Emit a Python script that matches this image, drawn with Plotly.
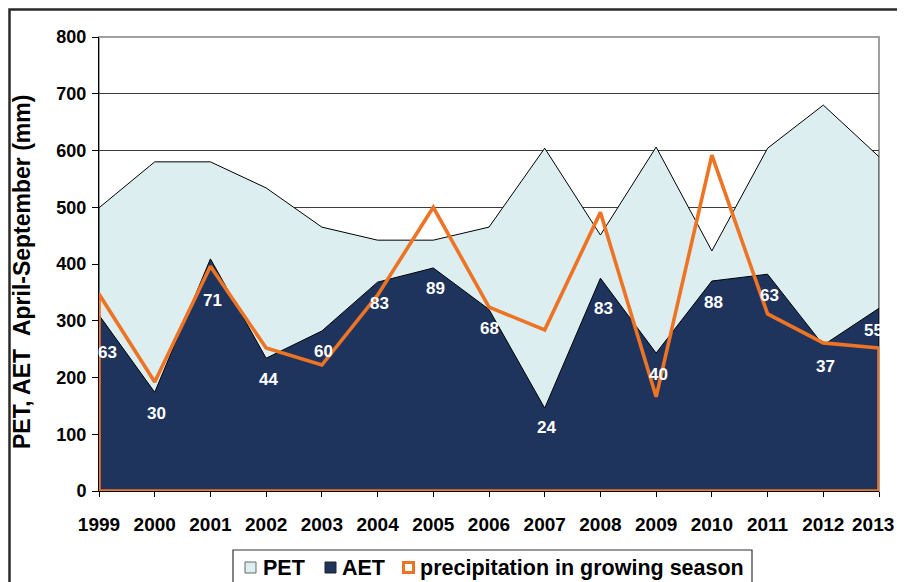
import plotly.graph_objects as go

# === Data ===
YEARS = list(range(1999, 2014))
PET = [499, 580, 580, 534, 465, 442, 442, 465, 604, 451, 606, 423, 604, 680, 589]
AET = [310, 174, 409, 234, 282, 368, 393, 320, 146, 375, 243, 370, 382, 257, 322]
PRECIP = [347, 192, 396, 252, 222, 345, 500, 324, 284, 491, 166, 592, 312, 261, 252]
AET_PCT_LABELS = ["63", "30", "71", "44", "60", "83", "89", "68", "24", "83", "40", "88", "63", "37", "55"]
LEGEND_NAMES = ["PET", "AET", "precipitation in growing season"]

# === Colors ===
PET_COLOR = "#DDEEF0"
AET_COLOR = "#1F345D"
PRECIP_COLOR = "#EC7424"
GRID_COLOR = "#3C3C3C"
FONT = "Liberation Sans, Arial, sans-serif"

# the page has an 8px body margin, so the figure starts at (8, 8) in the window
OFF = 8
FIG_W, FIG_H = 905 - 2 * OFF, 582 - OFF
# plot area in window pixels
PX_LEFT, PX_RIGHT, PX_TOP, PX_BOTTOM = 99, 879, 37, 491
L, R = PX_LEFT - OFF, OFF + FIG_W - PX_RIGHT
T, B = PX_TOP - OFF, 582 - PX_BOTTOM
W, H = PX_RIGHT - PX_LEFT, PX_BOTTOM - PX_TOP


def px_x(px):
    return (px - PX_LEFT) / W


def px_y(py):
    return (PX_BOTTOM - py) / H


def closed(xs, ys):
    # outline polygon down to the x axis (like an Excel area series)
    return [xs[0]] + xs + [xs[-1], xs[0]], [0] + ys + [0, 0]


fig = go.Figure()

px, py = closed(YEARS, PET)
fig.add_trace(go.Scatter(x=px, y=py, fill="toself", fillcolor=PET_COLOR,
                         line=dict(color="black", width=1), mode="lines",
                         showlegend=False, hoverinfo="skip"))

ax, ay = closed(YEARS, AET)
fig.add_trace(go.Scatter(x=ax, y=ay, fill="toself", fillcolor=AET_COLOR,
                         line=dict(color="black", width=1), mode="lines",
                         showlegend=False, hoverinfo="skip"))

rx, ry = closed(YEARS, PRECIP)
fig.add_trace(go.Scatter(x=rx, y=ry, mode="lines",
                         line=dict(color=PRECIP_COLOR, width=3.6),
                         showlegend=False, hoverinfo="skip"))

# AET/PET percent labels
special = {0: (8, -37), 2: (2, -42), 7: (0, -19), 8: (2, -19), 9: (3, -30), 14: (-6, -22)}
for i, (yr, v, lab) in enumerate(zip(YEARS, AET, AET_PCT_LABELS)):
    xs, ys = special.get(i, (2, -21))
    fig.add_annotation(x=yr, y=v, text=f"<b>{lab}</b>", showarrow=False,
                       xshift=xs, yshift=ys, yanchor="middle",
                       font=dict(color="white", size=17, family=FONT))

# last year label: the page edge would clip it, so pin it inside the figure
ticktext = [f"<b>{y}</b>" for y in YEARS]
ticktext[-1] = ""
fig.add_annotation(x=YEARS[-1], xref="x", yref="paper", y=px_y(524),
                   xanchor="right", yanchor="middle", xshift=17,
                   text=f"<b>{YEARS[-1]}</b>", showarrow=False,
                   font=dict(size=19, color="black", family=FONT))

# y axis title
fig.add_annotation(xref="paper", yref="paper", x=px_x(22), y=px_y(272),
                   xanchor="center", yanchor="middle",
                   text="<b>PET, AET\u00a0\u00a0April-September (mm)</b>",
                   textangle=-90, showarrow=False,
                   font=dict(size=23, color="black", family=FONT))

# plot border (grey) and outer chart frame
fig.add_shape(type="rect", xref="paper", yref="paper", x0=0, x1=1, y0=0, y1=1,
              line=dict(color="#A0A0A0", width=2), layer="between")
fig.add_shape(type="rect", xref="paper", yref="paper",
              x0=px_x(9.5), x1=px_x(915), y0=px_y(600), y1=px_y(9.5),
              line=dict(color="#2A2A2A", width=2.5), layer="above")

# legend box drawn by hand (it runs off the bottom edge, as in the reference)
fig.add_shape(type="rect", xref="paper", yref="paper",
              x0=px_x(233), x1=px_x(752), y0=px_y(600), y1=px_y(550),
              line=dict(color="#333333", width=1.2), fillcolor="white", layer="above")
fig.add_shape(type="rect", xref="paper", yref="paper",
              x0=px_x(245), x1=px_x(256), y0=px_y(573), y1=px_y(562),
              line=dict(color="#666666", width=1), fillcolor=PET_COLOR, layer="above")
fig.add_shape(type="rect", xref="paper", yref="paper",
              x0=px_x(325), x1=px_x(336), y0=px_y(573), y1=px_y(562),
              line=dict(color="#222222", width=1), fillcolor=AET_COLOR, layer="above")
fig.add_shape(type="rect", xref="paper", yref="paper",
              x0=px_x(403.5), x1=px_x(413.5), y0=px_y(572.5), y1=px_y(562.5),
              line=dict(color=PRECIP_COLOR, width=3), fillcolor="white", layer="above")
for name, lx in zip(LEGEND_NAMES, [261, 340, 418]):
    fig.add_annotation(xref="paper", yref="paper", x=px_x(lx), y=px_y(567.5),
                       xanchor="left", yanchor="middle", showarrow=False,
                       text=f"<b>{name}</b>",
                       font=dict(size=21.5, color="black", family=FONT))

fig.update_layout(
    width=FIG_W, height=FIG_H,
    margin=dict(l=L, r=R, t=T, b=B, autoexpand=False),
    plot_bgcolor="white", paper_bgcolor="white",
    font=dict(family=FONT, color="black"),
    xaxis=dict(
        range=[1999, 2013], tickmode="array", tickvals=YEARS,
        ticktext=ticktext,
        ticks="outside", ticklen=5, tickcolor="black", ticklabelstandoff=11,
        ticklabeloverflow="allow", automargin=False,
        showgrid=False, zeroline=False, showline=True, linecolor="black",
        tickfont=dict(size=19, family=FONT),
    ),
    yaxis=dict(
        range=[0, 800], tickmode="array",
        tickvals=list(range(0, 801, 100)),
        ticktext=[f"<b>{v}</b>" for v in range(0, 801, 100)],
        ticks="outside", ticklen=6, tickcolor="black", ticklabelstandoff=2,
        automargin=False,
        showgrid=True, gridcolor=GRID_COLOR, gridwidth=1,
        zeroline=False, showline=True, linecolor="black",
        tickfont=dict(size=18, family=FONT),
    ),
    showlegend=False,
)

fig.write_html("out.html")
